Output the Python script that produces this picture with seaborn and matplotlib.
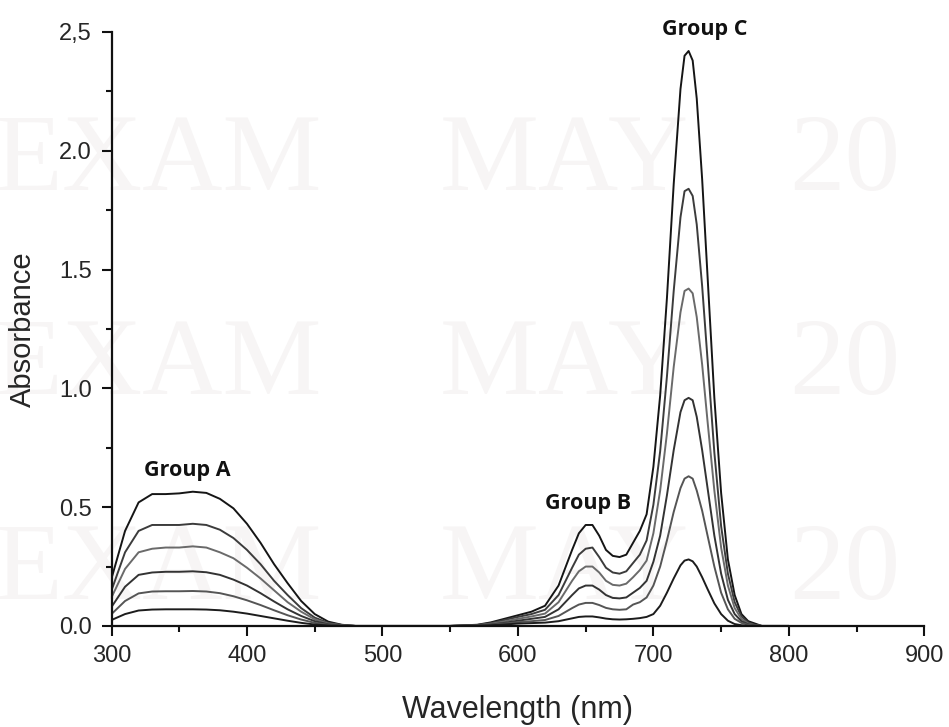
import numpy as np
import pandas as pd
import seaborn as sns
import matplotlib.pyplot as plt
from matplotlib.ticker import MultipleLocator, FixedLocator, FixedFormatter

# wavelength grid (nm)
wavelength = [300, 310, 320, 330, 340, 350, 360, 370, 380, 390, 400, 410, 420, 430, 440,
              450, 460, 470, 480, 500, 550, 570, 580, 590, 600, 610, 620, 630, 640, 645,
              650, 655, 660, 665, 670, 675, 680, 685, 690, 695, 700, 705, 710, 715, 720,
              723, 726, 729, 732, 736, 740, 745, 750, 755, 760, 765, 770, 775, 780, 800]

# absorbance of the six spectra, highest to lowest
abs_1 = [0.20, 0.40, 0.52, 0.555, 0.555, 0.558, 0.565, 0.56, 0.535, 0.495, 0.43, 0.35, 0.26, 0.18, 0.105,
         0.05, 0.018, 0.005, 0.0, 0.0, 0.0, 0.005, 0.015, 0.03, 0.045, 0.06, 0.085, 0.17, 0.32, 0.39,
         0.425, 0.425, 0.38, 0.32, 0.295, 0.29, 0.30, 0.35, 0.40, 0.47, 0.67, 0.97, 1.38, 1.86, 2.26,
         2.40, 2.42, 2.38, 2.22, 1.88, 1.47, 0.96, 0.56, 0.28, 0.13, 0.05, 0.02, 0.01, 0.0, 0.0]
abs_2 = [0.15, 0.31, 0.40, 0.425, 0.425, 0.425, 0.43, 0.425, 0.405, 0.37, 0.32, 0.26, 0.19, 0.13, 0.075,
         0.035, 0.013, 0.004, 0.0, 0.0, 0.0, 0.004, 0.012, 0.025, 0.038, 0.05, 0.068, 0.13, 0.245, 0.30,
         0.325, 0.33, 0.29, 0.245, 0.225, 0.22, 0.23, 0.265, 0.30, 0.36, 0.51, 0.735, 1.05, 1.41, 1.72,
         1.83, 1.84, 1.81, 1.69, 1.43, 1.12, 0.73, 0.42, 0.22, 0.10, 0.04, 0.015, 0.005, 0.0, 0.0]
abs_3 = [0.12, 0.24, 0.31, 0.325, 0.33, 0.33, 0.335, 0.33, 0.31, 0.285, 0.245, 0.20, 0.15, 0.10, 0.06,
         0.028, 0.01, 0.003, 0.0, 0.0, 0.0, 0.003, 0.009, 0.019, 0.03, 0.04, 0.052, 0.10, 0.19, 0.23,
         0.25, 0.25, 0.225, 0.19, 0.173, 0.17, 0.178, 0.205, 0.235, 0.275, 0.39, 0.57, 0.81, 1.09, 1.32,
         1.41, 1.42, 1.40, 1.30, 1.10, 0.86, 0.57, 0.33, 0.17, 0.075, 0.03, 0.01, 0.003, 0.0, 0.0]
abs_4 = [0.08, 0.165, 0.215, 0.225, 0.228, 0.228, 0.23, 0.226, 0.215, 0.195, 0.17, 0.138, 0.103, 0.07, 0.042,
         0.02, 0.007, 0.002, 0.0, 0.0, 0.0, 0.002, 0.006, 0.013, 0.022, 0.03, 0.038, 0.07, 0.13, 0.158,
         0.17, 0.17, 0.153, 0.13, 0.118, 0.116, 0.12, 0.14, 0.16, 0.19, 0.27, 0.38, 0.55, 0.74, 0.90,
         0.95, 0.96, 0.95, 0.88, 0.74, 0.58, 0.38, 0.22, 0.11, 0.05, 0.02, 0.007, 0.002, 0.0, 0.0]
abs_5 = [0.05, 0.105, 0.137, 0.145, 0.146, 0.146, 0.147, 0.145, 0.138, 0.125, 0.108, 0.088, 0.066, 0.045, 0.027,
         0.013, 0.005, 0.001, 0.0, 0.0, 0.0, 0.002, 0.005, 0.01, 0.016, 0.02, 0.025, 0.042, 0.075, 0.09,
         0.097, 0.097, 0.088, 0.076, 0.07, 0.068, 0.07, 0.09, 0.10, 0.12, 0.17, 0.25, 0.36, 0.48, 0.58,
         0.62, 0.63, 0.62, 0.57, 0.485, 0.38, 0.25, 0.14, 0.07, 0.03, 0.013, 0.005, 0.001, 0.0, 0.0]
abs_6 = [0.025, 0.05, 0.065, 0.069, 0.07, 0.07, 0.07, 0.069, 0.066, 0.06, 0.052, 0.042, 0.032, 0.022, 0.013,
         0.006, 0.002, 0.0, 0.0, 0.0, 0.0, 0.001, 0.003, 0.006, 0.01, 0.012, 0.014, 0.02, 0.032, 0.038,
         0.04, 0.04, 0.036, 0.031, 0.028, 0.027, 0.028, 0.03, 0.033, 0.038, 0.05, 0.085, 0.14, 0.20, 0.255,
         0.275, 0.28, 0.272, 0.25, 0.205, 0.155, 0.095, 0.05, 0.022, 0.008, 0.003, 0.0, 0.0, 0.0, 0.0]

spectra = [abs_1, abs_2, abs_3, abs_4, abs_5, abs_6]
line_colors = ['#151515', '#3c3c3c', '#6a6a6a', '#333333', '#555555', '#1c1c1c']

y_ticks = [0.0, 0.5, 1.0, 1.5, 2.0, 2.5]
y_ticklabels = ['0.0', '0.5', '1.0', '1.5', '2.0', '2,5']
x_ticks = [300, 400, 500, 600, 700, 800, 900]

group_labels = ['Group A', 'Group B', 'Group C']
group_x = [356, 652, 738]
group_y = [0.655, 0.515, 2.51]

rows = []
for i, vals in enumerate(spectra):
    for w, a in zip(wavelength, vals):
        rows.append({'wavelength': w, 'absorbance': a, 'sample': 's%d' % (i + 1)})
df = pd.DataFrame(rows)

sns.set_style('ticks')
plt.rcParams['font.family'] = ['Liberation Sans', 'DejaVu Sans']

fig = plt.figure(figsize=(9.49, 7.27), dpi=100)
fig.patch.set_facecolor('white')

# very faint scanned watermark, behind everything
for yy in [0.775, 0.495, 0.213]:
    for xx, word in [(-0.005, 'EXAM'), (0.463, 'MAY'), (0.832, '20')]:
        fig.text(xx, yy, word, fontsize=80, color='#f7f5f5', family='Liberation Serif',
                 va='center', ha='left', zorder=-5)

ax = fig.add_axes([0.1175, 0.139, 0.8565, 0.817])
ax.set_facecolor('none')

sns.lineplot(data=df, x='wavelength', y='absorbance', hue='sample', palette=line_colors,
             linewidth=1.4, legend=False, ax=ax, estimator=None)

ax.set_xlim(300, 900)
ax.set_ylim(0, 2.5)
ax.xaxis.set_major_locator(FixedLocator(x_ticks))
ax.xaxis.set_minor_locator(MultipleLocator(50))
ax.yaxis.set_major_locator(FixedLocator(y_ticks))
ax.yaxis.set_major_formatter(FixedFormatter(y_ticklabels))
ax.yaxis.set_minor_locator(MultipleLocator(0.25))

ax.tick_params(which='major', length=7, width=1.5, labelsize=17, pad=7, color='#111111')
ax.tick_params(which='minor', length=4, width=1.5, color='#111111')
for s in ['left', 'bottom']:
    ax.spines[s].set_linewidth(1.6)
    ax.spines[s].set_color('#111111')
sns.despine(ax=ax)

ax.set_xlabel('Wavelength (nm)', fontsize=22, labelpad=20)
ax.set_ylabel('Absorbance', fontsize=21, labelpad=16)

for lab, gx, gy in zip(group_labels, group_x, group_y):
    ax.text(gx, gy, lab, fontsize=15.5, fontweight='bold', family='Open Sans',
            ha='center', va='center', color='#111111', clip_on=False)

plt.savefig('out.png', dpi=100)
